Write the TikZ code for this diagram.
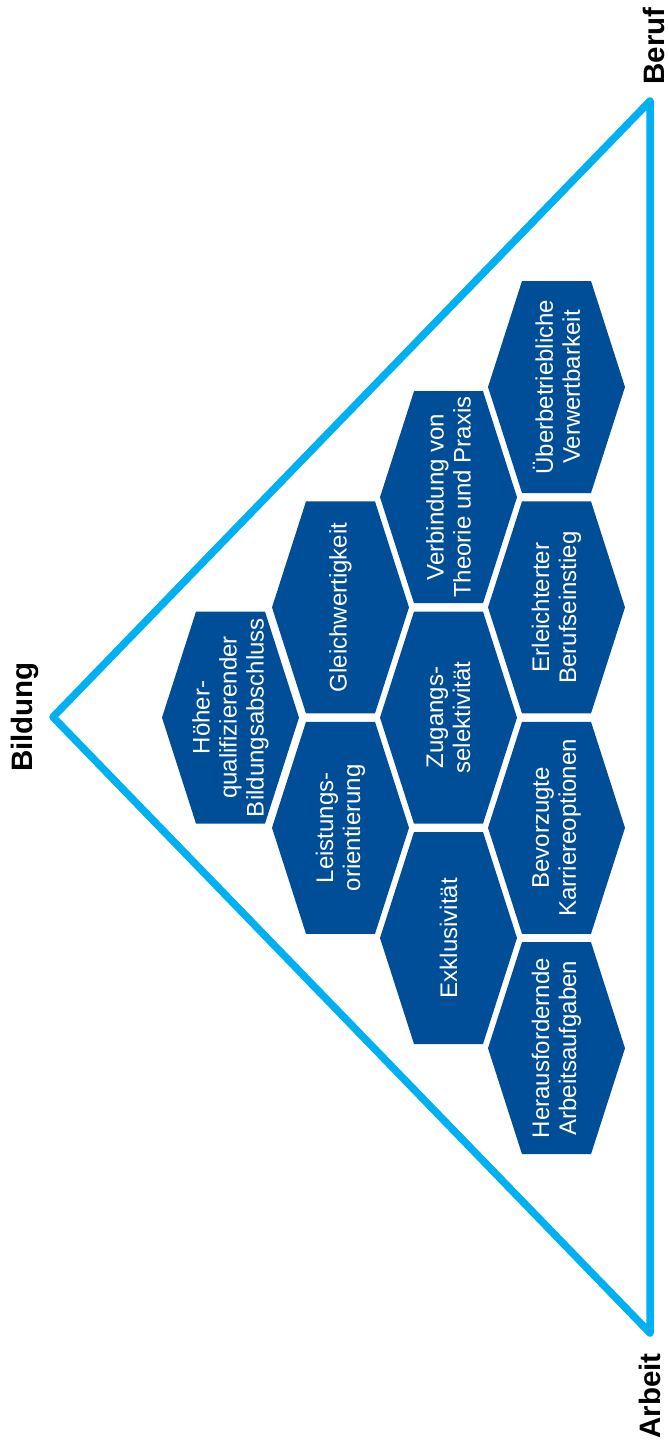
\documentclass[tikz,border=0pt]{standalone}
\usepackage{fontspec}
\setmainfont{Liberation Sans}
\usepackage{xcolor}
\definecolor{hexblue}{RGB}{0,78,152}
\definecolor{trianglecyan}{RGB}{0,176,240}
\tikzset{%
    hexcell/.style     = {fill=hexblue},
    hextext/.style     = {text=white, rotate=90, align=center,
                          font=\fontsize{24}{27}\selectfont},
    triangleline/.style = {draw=trianglecyan, line width=7.5pt, line join=round},
    cornerlabel/.style = {rotate=90, anchor=base,
                          font=\fontsize{29.5}{32}\selectfont\bfseries}
}
% hexagon with pointed ends left and right: name, x, y, text
\newcommand{\hexcellat}[4]{%
    \fill[hexcell] (#2-68.5,#3) -- ++(34,-106) -- ++(69,0) -- ++(34,106)
                   -- ++(-34,106) -- ++(-69,0) -- cycle;
    \node[hextext] (#1) at (#2,#3) {#4};
}

\begin{document}
\begin{tikzpicture}[x=1pt,y=-1pt]
    \useasboundingbox (0,0) rectangle (669,1446);
    % triangle
    \coordinate (bildung) at (53,717);
    \coordinate (beruf)   at (650,101);
    \coordinate (arbeit)  at (650,1333);
    \draw[triangleline] (bildung) -- (beruf) -- (arbeit) -- cycle;
    \node[cornerlabel] (bildunglabel) at (32,717)  {Bildung};
    \node[cornerlabel] (beruflabel)   at (664,46)  {Beruf};
    \node[cornerlabel] (arbeitlabel)  at (660,1396) {Arbeit};
    % hexagons
    \hexcellat{abschluss}{230.5}{717.6}{Höher-\\qualifizierender\\Bildungsabschluss}
    \hexcellat{gleich}{340.5}{607.4}{Gleichwertigkeit}
    \hexcellat{leistung}{340.5}{827.8}{Leistungs-\\orientierung}
    \hexcellat{verbindung}{448.5}{497.2}{Verbindung von\\Theorie und Praxis}
    \hexcellat{zugang}{448.5}{717.6}{Zugangs-\\selektivität}
    \hexcellat{exklusiv}{448.5}{938}{Exklusivität}
    \hexcellat{verwertbar}{556.5}{387}{Überbetriebliche\\Verwertbarkeit}
    \hexcellat{einstieg}{556.5}{607.4}{Erleichterter\\Berufseinstieg}
    \hexcellat{karriere}{556.5}{827.8}{Bevorzugte\\Karriereoptionen}
    \hexcellat{aufgaben}{556.5}{1048.2}{Herausfordernde\\Arbeitsaufgaben}
\end{tikzpicture}
\end{document}
